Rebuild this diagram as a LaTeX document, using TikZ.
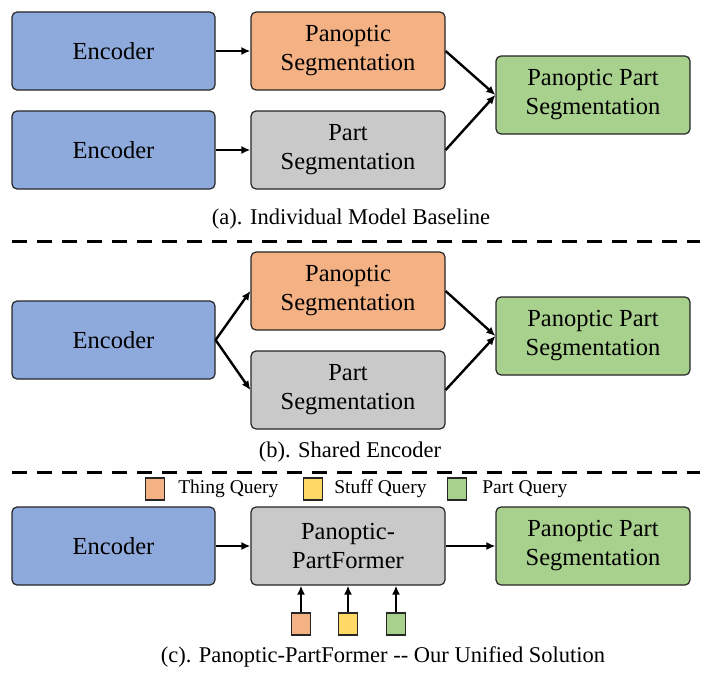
\documentclass[tikz,border=0pt]{standalone}
\usepackage{fontspec}
\setmainfont{Liberation Serif}
\newfontfamily\timesfont{Liberation Serif}
\usetikzlibrary{arrows.meta, positioning}

\definecolor{encblue}{RGB}{142,169,219}
\definecolor{panorange}{RGB}{244,177,131}
\definecolor{partgray}{RGB}{201,201,201}
\definecolor{ppsgreen}{RGB}{169,209,142}
\definecolor{stuffyellow}{RGB}{255,217,102}

\begin{document}
\begin{tikzpicture}[
    x=1pt, y=-1pt,
    box/.style={rectangle, draw=black!85, line width=1.2pt, rounded corners=5pt, minimum width=194pt, minimum height=78pt, align=center, font=\timesfont\fontsize{24.5}{29}\selectfont},
    encoder/.style={box, minimum width=203pt, fill=encblue},
    panoptic/.style={box, fill=panorange},
    part/.style={box, fill=partgray},
    result/.style={box, fill=ppsgreen},
    query/.style={rectangle, draw=black!85, line width=1.2pt, minimum width=19pt, minimum height=22pt, inner sep=0pt},
    caption/.style={font=\timesfont\fontsize{22.5}{26}\selectfont},
    legend/.style={font=\timesfont\fontsize{19.5}{23}\selectfont, anchor=west, inner sep=0pt},
    arrow/.style={-{Latex[length=9pt,width=8pt]}, line width=2.4pt},
    sep/.style={dashed, line width=3pt, dash pattern=on 15pt off 10pt}
]
\useasboundingbox (0,0) rectangle (717,677);

% (a) Individual model baseline
\node[encoder] (enca) at (113.5,51) {Encoder};
\node[encoder] (encb) at (113.5,150) {Encoder};
\node[panoptic] (pana) at (348,51) {Panoptic\\Segmentation};
\node[part] (parta) at (348,150) {Part\\Segmentation};
\node[result] (ppsa) at (593,95) {Panoptic Part\\Segmentation};
\node[caption] (capa) at (351,219) {(a). Individual Model Baseline};

\draw[arrow] (enca) -- (pana);
\draw[arrow] (encb) -- (parta);
\draw[arrow] (pana.east) -- (ppsa.west);
\draw[arrow] (parta.east) -- (ppsa.west);

\draw[sep] (12,241) -- (700,241);

% (b) Shared encoder
\node[encoder] (encs) at (113.5,340) {Encoder};
\node[panoptic] (pans) at (348,291) {Panoptic\\Segmentation};
\node[part] (parts) at (348,390) {Part\\Segmentation};
\node[result] (ppss) at (593,336) {Panoptic Part\\Segmentation};
\node[caption] (capb) at (350,452) {(b). Shared Encoder};

\draw[arrow] (encs.east) -- (pans.west);
\draw[arrow] (encs.east) -- (parts.west);
\draw[arrow] (pans.east) -- (ppss.west);
\draw[arrow] (parts.east) -- (ppss.west);

\draw[sep] (12,472) -- (700,472);

% Legend
\node[query, fill=panorange] (qthing) at (155,489) {};
\node[legend, right=13pt of qthing] (lthing) {Thing Query};
\node[query, fill=stuffyellow] (qstuff) at (313,489) {};
\node[legend, right=11pt of qstuff] (lstuff) {Stuff Query};
\node[query, fill=ppsgreen] (qpart) at (457,489) {};
\node[legend, right=15pt of qpart] (lpart) {Part Query};

% (c) Panoptic-PartFormer
\node[encoder] (encu) at (113.5,546) {Encoder};
\node[part] (former) at (348,546) {Panoptic-\\PartFormer};
\node[result] (ppsu) at (593,546) {Panoptic Part\\Segmentation};
\node[caption] (capc) at (383,657) {(c). Panoptic-PartFormer {-}{-} Our Unified Solution};

\node[query, fill=panorange] (q1) at (301,624) {};
\node[query, fill=stuffyellow] (q2) at (348,624) {};
\node[query, fill=ppsgreen] (q3) at (396,624) {};

\draw[arrow] (encu) -- (former);
\draw[arrow] (former) -- (ppsu);
\draw[arrow] (q1) -- (q1 |- former.south);
\draw[arrow] (q2) -- (q2 |- former.south);
\draw[arrow] (q3) -- (q3 |- former.south);

\end{tikzpicture}
\end{document}
